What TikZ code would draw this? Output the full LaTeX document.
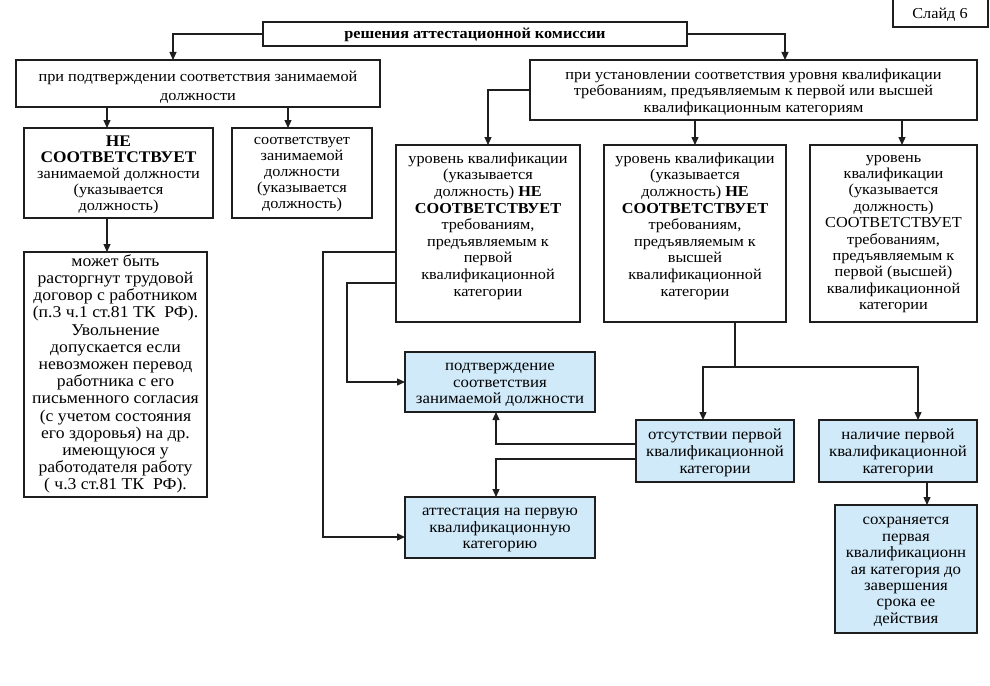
\documentclass[tikz,border=0pt]{standalone}
\usepackage{fontspec}
\setmainfont{Liberation Serif}[FakeStretch=1.07]
\usetikzlibrary{arrows.meta}
\definecolor{lblue}{RGB}{208,234,250}
\definecolor{lcol}{RGB}{30,30,30}
\begin{document}
\begin{tikzpicture}[x=1pt,y=-1pt,
  box/.style={draw=lcol, line width=1.3pt, rectangle, inner sep=0pt, outer sep=0pt, anchor=north west},
  bbox/.style={box, fill=lblue},
  txt/.style={align=center, inner sep=0pt, font=\fontsize{15.2}{16.5}\selectfont},
  btxt/.style={align=center, inner sep=0pt, font=\fontsize{15.7}{16.8}\selectfont},
  arr/.style={line width=1.2pt, draw=lcol, -{Triangle[length=8pt,width=7pt]}},
  ln/.style={line width=1.2pt, draw=lcol}]
\useasboundingbox (0,0) rectangle (990,685);
\fill[white] (0,0) rectangle (990,685);

% boxes
\node[box, minimum width=424, minimum height=24] (top) at (263,22) {};
\node[box, minimum width=95, minimum height=32] (slide) at (893,-5) {};
\node[box, minimum width=364, minimum height=47] (lb) at (16,60) {};
\node[box, minimum width=447, minimum height=60] (rb) at (530,60) {};
\node[box, minimum width=189, minimum height=90] (ne) at (24,128) {};
\node[box, minimum width=140, minimum height=90] (corr) at (232,128) {};
\node[box, minimum width=183, minimum height=245] (ml) at (24,252) {};
\node[box, minimum width=184, minimum height=177] (b1) at (396,145) {};
\node[box, minimum width=182, minimum height=177] (b2) at (604,145) {};
\node[box, minimum width=167, minimum height=177] (b3) at (810,145) {};
\node[bbox, minimum width=190, minimum height=60] (bl1) at (405,352) {};
\node[bbox, minimum width=190, minimum height=61] (bl2) at (405,497) {};
\node[bbox, minimum width=158, minimum height=62] (bl3) at (636,420) {};
\node[bbox, minimum width=158, minimum height=62] (bl4) at (819,420) {};
\node[bbox, minimum width=142, minimum height=128] (bl5) at (835,505) {};

% texts
\node[txt, font=\bfseries\fontsize{15.2}{16.5}\selectfont] (top-t) at (475,35) {решения аттестационной комиссии};
\node[txt] (slide-t) at (940,15) {Слайд 6};
\node[txt, font=\fontsize{15.2}{19}\selectfont] (lb-t) at (198,87) {при подтверждении соответствия занимаемой\\должности};
\node[txt] (rb-t) at (753.5,92) {при установлении соответствия уровня квалификации\\требованиям, предъявляемым к первой или высшей\\квалификационным категориям};
\node[txt, font=\fontsize{15.2}{16}\selectfont] (ne-t) at (118.5,175) {\textbf{\fontsize{16.2}{16}\selectfont НЕ}\\\textbf{\fontsize{16.2}{16}\selectfont СООТВЕТСТВУЕТ}\\занимаемой должности\\(указывается\\должность)};
\node[txt, font=\fontsize{15.2}{16}\selectfont] (corr-t) at (302,175) {соответствует\\занимаемой\\должности\\(указывается\\должность)};
\node[txt, font=\fontsize{16.5}{17.2}\selectfont] (ml-t) at (115.5,374) {может быть\\расторгнут трудовой\\договор с работником\\(п.3 ч.1 ст.81 ТК~~РФ).\\Увольнение\\допускается если\\невозможен перевод\\работника с его\\письменного согласия\\(с учетом состояния\\его здоровья) на др.\\имеющуюся у\\работодателя работу\\( ч.3 ст.81 ТК~~РФ).};
\node[txt, font=\fontsize{15.2}{16.6}\selectfont] (b1-t) at (488,226) {уровень квалификации\\(указывается\\должность) \textbf{НЕ}\\\textbf{СООТВЕТСТВУЕТ}\\требованиям,\\предъявляемым к\\первой\\квалификационной\\категории};
\node[txt, font=\fontsize{15.2}{16.6}\selectfont] (b2-t) at (695,226) {уровень квалификации\\(указывается\\должность) \textbf{НЕ}\\\textbf{СООТВЕТСТВУЕТ}\\требованиям,\\предъявляемым к\\высшей\\квалификационной\\категории};
\node[txt, font=\fontsize{15.2}{16.4}\selectfont] (b3-t) at (893.5,234) {уровень\\квалификации\\(указывается\\должность)\\СООТВЕТСТВУЕТ\\требованиям,\\предъявляемым к\\первой (высшей)\\квалификационной\\категории};
\node[btxt] (bl1-t) at (500,385) {подтверждение\\соответствия\\занимаемой должности};
\node[btxt] (bl2-t) at (500,530) {аттестация на первую\\квалификационную\\категорию};
\node[btxt] (bl3-t) at (715,453) {отсутствии первой\\квалификационной\\категории};
\node[btxt] (bl4-t) at (898,453) {наличие первой\\квалификационной\\категории};
\node[btxt, font=\fontsize{15.7}{16.4}\selectfont] (bl5-t) at (906,572) {сохраняется\\первая\\квалификационн\\ая категория до\\завершения\\срока ее\\действия};

% connectors
\coordinate (k1) at ([xshift=-25]lb.north);
\draw[arr] (top.west) -| (k1);
\coordinate (k2) at ([xshift=31.5]rb.north);
\draw[arr] (top.east) -| (k2);
\coordinate (k3) at ([xshift=-11.5]ne.north);
\draw[arr] (lb.south -| k3) -- (k3);
\coordinate (k4) at ([xshift=-14]corr.north);
\draw[arr] (lb.south -| k4) -- (k4);
\coordinate (k5) at ([xshift=-8.5]ml.north);
\draw[arr] (ne.south -| k5) -- (k5);
\draw[arr] (rb.west) -| (b1.north);
\draw[arr] (rb.south -| b2.north) -- (b2.north);
\coordinate (k6) at ([xshift=8.5]b3.north);
\draw[arr] (rb.south -| k6) -- (k6);
\coordinate (k7) at ([yshift=-18.5]b1.west);
\coordinate (k8) at ([yshift=-9.5]bl2.west);
\draw[arr] (k7) -- ++(-73,0) |- (k8);
\coordinate (k9) at ([yshift=-49.5]b1.west);
\draw[arr] (k9) -- ++(-49,0) |- (bl1.west);
\draw[ln] ([xshift=40]b2.south) -- ++(0,45) coordinate (j);
\coordinate (k10) at ([xshift=-12]bl3.north);
\coordinate (k11) at ([xshift=20]bl4.north);
\draw[arr] (j) -| (k10);
\draw[arr] (j) -| (k11);
\coordinate (k12) at ([xshift=-4]bl1.south);
\draw[arr] ([yshift=7]bl3.west) -| (k12);
\coordinate (k13) at ([xshift=-4]bl2.north);
\draw[arr] ([yshift=-8]bl3.west) -| (k13);
\coordinate (k14) at ([xshift=21]bl5.north);
\draw[arr] (bl4.south -| k14) -- (k14);
\end{tikzpicture}
\end{document}
